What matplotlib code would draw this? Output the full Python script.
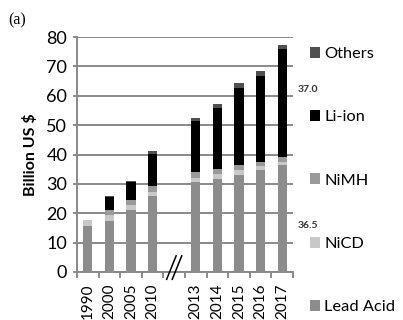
import numpy as np
import matplotlib
matplotlib.use("Agg")
import matplotlib.pyplot as plt

# values (billion US $); "" = axis break slot
years = ["1990", "2000", "2005", "2010", "", "2013", "2014", "2015", "2016", "2017"]
lead_acid = [15.6, 17.4, 21.2, 25.8, 0, 30.5, 31.8, 33.0, 34.6, 36.5]
nicd = [2.2, 1.9, 1.5, 1.4, 0, 1.6, 1.5, 1.6, 1.5, 1.0]
nimh = [0.0, 1.7, 1.7, 2.0, 0, 1.9, 1.8, 1.7, 1.5, 1.5]
li_ion = [0.0, 4.5, 6.2, 11.0, 0, 17.6, 20.7, 26.5, 29.2, 37.0]
others = [0.0, 0.3, 0.4, 0.9, 0, 1.0, 1.4, 1.6, 1.6, 1.3]

series = [("Lead Acid", lead_acid, "#8c8c8c"),
          ("NiCD", nicd, "#c8c8c8"),
          ("NiMH", nimh, "#9a9a9a"),
          ("Li-ion", li_ion, "#000000"),
          ("Others", others, "#505050")]

plt.rcParams["font.family"] = ["Lato", "DejaVu Sans"]

fig = plt.figure(figsize=(4.03, 3.2), dpi=100)
ax = fig.add_axes([0.191, 0.15, 0.536, 0.734])

x = np.arange(len(years))
bottom = np.zeros(len(years))
handles = []
for name, vals, col in series:
    vals = np.array(vals)
    b = ax.bar(x, vals, 0.42, bottom=bottom, color=col, label=name, zorder=3)
    handles.append(b)
    bottom += vals

ax.set_xlim(-0.5, len(years) - 0.5)
ax.set_ylim(0, 80)
ax.set_yticks(range(0, 81, 10))
ax.tick_params(axis="y", labelsize=13, length=3, color="#777777", width=1.2, pad=4)
ax.yaxis.grid(True, color="#8a8a8a", linewidth=1.4, zorder=0)
ax.set_axisbelow(True)

ax.set_xticks(x)
ax.set_xticklabels(years, rotation=90, fontsize=11)
ax.set_xticks(np.arange(-0.5, len(years) + 0.5, 1), minor=True)
ax.tick_params(axis="x", which="major", length=0, pad=8)
ax.tick_params(axis="x", which="minor", length=4, color="#777777", width=1.2)

for s in ["top", "right"]:
    ax.spines[s].set_visible(False)
for s in ["left", "bottom"]:
    ax.spines[s].set_color("#8a8a8a")
    ax.spines[s].set_linewidth(1.4)

ax.set_ylabel("Billion US $", fontsize=11.5, fontweight="bold", labelpad=6)

# axis break marks in the empty slot
gap = years.index("")
for dx in (-0.13, 0.13):
    ax.plot([gap + dx - 0.22, gap + dx + 0.22], [-2.5, 5.5], color="black",
            lw=1.1, clip_on=False, zorder=5)

# value notes at right of last bar
ax.text(len(years) - 0.3, 62, "37.0", fontsize=7.5, color="#333333",
        fontweight="bold", va="center", clip_on=False)
ax.text(len(years) - 0.3, 16, "36.5", fontsize=7.5, color="#333333",
        fontweight="bold", va="center", clip_on=False)

fig.legend(handles[::-1], [h.get_label() for h in handles[::-1]],
           loc="upper left", bbox_to_anchor=(0.748, 0.88), frameon=False,
           fontsize=11.8, handlelength=0.65, handleheight=0.65,
           handletextpad=0.25, labelspacing=3.0, borderpad=0)

fig.text(0.02, 0.925, "(a)", family="Liberation Serif", fontsize=11.5)

fig.savefig("out.png", dpi=100)
